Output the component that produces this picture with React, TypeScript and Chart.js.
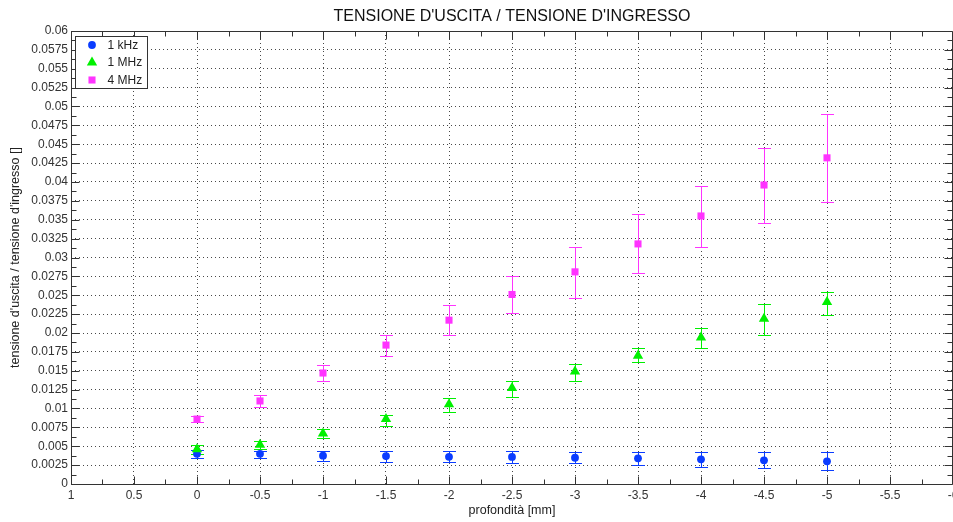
import React, { useEffect, useRef } from 'react';
import { Chart, registerables } from 'chart.js';

Chart.register(...registerables);

// Depth positions (mm)
const depths = [0, -0.5, -1, -1.5, -2, -2.5, -3, -3.5, -4, -4.5, -5];

// 1 kHz: ratio and error-bar bounds
const khz1 = [0.0040, 0.0040, 0.00375, 0.0037, 0.0036, 0.00358, 0.00348, 0.0034, 0.00327, 0.00314, 0.0030];
const khz1Low = [0.0035, 0.0034, 0.0030, 0.00287, 0.00287, 0.00282, 0.00274, 0.0025, 0.0023, 0.0021, 0.00185];
const khz1High = [0.0045, 0.0044, 0.0044, 0.00437, 0.00433, 0.00433, 0.0042, 0.0042, 0.0042, 0.0042, 0.0042];

// 1 MHz
const mhz1 = [0.0046, 0.0052, 0.0067, 0.0086, 0.01055, 0.0127, 0.0149, 0.0170, 0.0194, 0.0219, 0.0241];
const mhz1Low = [0.0040, 0.0046, 0.0061, 0.0077, 0.0095, 0.0115, 0.0137, 0.0161, 0.0180, 0.0197, 0.0224];
const mhz1High = [0.0051, 0.0057, 0.0073, 0.0092, 0.0114, 0.0137, 0.0159, 0.0180, 0.0206, 0.0239, 0.0254];

// 4 MHz
const mhz4 = [0.0086, 0.0110, 0.0147, 0.0184, 0.0217, 0.0251, 0.0281, 0.0318, 0.0355, 0.0396, 0.0432];
const mhz4Low = [0.0082, 0.0102, 0.0137, 0.0169, 0.0198, 0.0227, 0.0247, 0.0280, 0.0314, 0.0346, 0.0373];
const mhz4High = [0.0090, 0.0118, 0.0157, 0.0197, 0.0237, 0.0276, 0.0314, 0.0357, 0.0395, 0.0445, 0.0490];

const seriesNames = ['1 kHz', '1 MHz', '4 MHz'];
const seriesColors = ['#0a3cff', '#00f000', '#ff33ff'];
const seriesShapes = ['circle', 'triangle', 'rect'];
const seriesRadius = [3.9, 6, 5];

// Axis ranges and tick spacing
const xMin = -6;
const xMax = 1;
const xStep = 0.5;
const yMin = 0;
const yMax = 0.06;
const yStep = 0.0025;

const FONT = "'Liberation Sans', Arial, Helvetica, sans-serif";
const AXIS_COLOR = '#333';

const noPadding = () => ({ left: 0, top: 0, right: 0, bottom: 0 });

function drawMarker(ctx: CanvasRenderingContext2D, shape: string, x: number, y: number, r: number, color: string) {
  ctx.save();
  ctx.fillStyle = color;
  ctx.beginPath();
  if (shape === 'circle') {
    ctx.arc(x, y, r, 0, Math.PI * 2);
  } else if (shape === 'triangle') {
    ctx.moveTo(x, y - r);
    ctx.lineTo(x + r * Math.sin(Math.PI * 2 / 3), y + r / 2);
    ctx.lineTo(x - r * Math.sin(Math.PI * 2 / 3), y + r / 2);
    ctx.closePath();
  } else {
    const s = r * Math.SQRT1_2;
    ctx.rect(x - s, y - s, 2 * s, 2 * s);
  }
  ctx.fill();
  ctx.restore();
}

// Vertical error bars with caps, drawn beneath the markers
const errorBarsPlugin = {
  id: 'errorBars',
  beforeDatasetsDraw(chart: any) {
    const { ctx, chartArea, scales } = chart;
    ctx.save();
    ctx.beginPath();
    ctx.rect(chartArea.left, chartArea.top, chartArea.right - chartArea.left, chartArea.bottom - chartArea.top);
    ctx.clip();
    chart.data.datasets.forEach((ds: any) => {
      ctx.strokeStyle = ds.borderColor;
      ctx.lineWidth = 1;
      ds.data.forEach((p: any, i: number) => {
        const x = Math.round(scales.x.getPixelForValue(p.x)) + 0.5;
        const yLo = Math.round(scales.y.getPixelForValue(ds.errLow[i])) + 0.5;
        const yHi = Math.round(scales.y.getPixelForValue(ds.errHigh[i])) + 0.5;
        const cap = 6.5;
        ctx.beginPath();
        ctx.moveTo(x, yLo);
        ctx.lineTo(x, yHi);
        ctx.moveTo(x - cap, yLo);
        ctx.lineTo(x + cap, yLo);
        ctx.moveTo(x - cap, yHi);
        ctx.lineTo(x + cap, yHi);
        ctx.stroke();
      });
    });
    ctx.restore();
  },
};

// Box frame with inward major/minor tick marks on all four sides, plus the legend box
const framePlugin = {
  id: 'frame',
  afterDatasetsDraw(chart: any) {
    const { ctx, chartArea, scales } = chart;
    const { left, right, top, bottom } = chartArea;
    const L = Math.round(left) + 0.5;
    const R = Math.round(right) - 0.5;
    const T = Math.round(top) + 0.5;
    const B = Math.round(bottom) + 0.5;
    ctx.save();
    ctx.strokeStyle = AXIS_COLOR;
    ctx.lineWidth = 1;
    ctx.beginPath();
    ctx.moveTo(L, T);
    ctx.lineTo(R, T);
    ctx.lineTo(R, B);
    ctx.lineTo(L, B);
    ctx.closePath();
    ctx.stroke();

    ctx.beginPath();
    const xMinor = xStep / 2;
    const nx = Math.round((xMax - xMin) / xMinor);
    for (let i = 0; i <= nx; i++) {
      const v = xMin + i * xMinor;
      const px = Math.round(scales.x.getPixelForValue(v)) + 0.5;
      const len = i % 2 === 0 ? 8 : 5;
      ctx.moveTo(px, B);
      ctx.lineTo(px, B - len);
      ctx.moveTo(px, T);
      ctx.lineTo(px, T + len);
    }
    const yMinor = yStep / 2;
    const ny = Math.round((yMax - yMin) / yMinor);
    for (let i = 0; i <= ny; i++) {
      const v = yMin + i * yMinor;
      const py = Math.round(scales.y.getPixelForValue(v)) + 0.5;
      const len = i % 2 === 0 ? 8 : 5;
      ctx.moveTo(L, py);
      ctx.lineTo(L + len, py);
      ctx.moveTo(R, py);
      ctx.lineTo(R - len, py);
    }
    ctx.stroke();
    ctx.restore();
  },
  afterDraw(chart: any) {
    const { ctx, chartArea } = chart;
    const bx = Math.round(chartArea.left) + 4.5;
    const by = Math.round(chartArea.top) + 5.5;
    const bw = 72;
    const bh = 52;
    ctx.save();
    ctx.fillStyle = '#fff';
    ctx.fillRect(bx, by, bw, bh);
    ctx.strokeStyle = AXIS_COLOR;
    ctx.lineWidth = 1;
    ctx.strokeRect(bx, by, bw, bh);
    ctx.font = `12px ${FONT}`;
    ctx.fillStyle = '#222';
    ctx.textBaseline = 'middle';
    ctx.textAlign = 'left';
    seriesNames.forEach((name, i) => {
      const cy = by + 8.5 + i * 17.5;
      drawMarker(ctx, seriesShapes[i], bx + 16.5, cy, seriesRadius[i], seriesColors[i]);
      ctx.fillText(name, bx + 32, cy + 0.5);
    });
    ctx.restore();
  },
};

export default function App() {
  const canvasRef = useRef<HTMLCanvasElement | null>(null);

  useEffect(() => {
    const canvas = canvasRef.current;
    if (!canvas) return;

    const makeSet = (i: number, values: number[], lo: number[], hi: number[], order: number) => ({
      label: seriesNames[i],
      data: depths.map((d, k) => ({ x: d, y: values[k] })),
      errLow: lo,
      errHigh: hi,
      borderColor: seriesColors[i],
      backgroundColor: seriesColors[i],
      pointStyle: seriesShapes[i],
      pointRadius: seriesRadius[i],
      pointBorderWidth: 0,
      showLine: false,
      order,
    });

    const chart = new Chart(canvas, {
      type: 'scatter',
      data: {
        datasets: [
          makeSet(0, khz1, khz1Low, khz1High, 3),
          makeSet(1, mhz1, mhz1Low, mhz1High, 2),
          makeSet(2, mhz4, mhz4Low, mhz4High, 1),
        ] as any,
      },
      options: {
        animation: false,
        responsive: false,
        devicePixelRatio: 1,
        layout: { autoPadding: false, padding: { left: 0, right: 0, top: 0, bottom: 0 } },
        plugins: {
          legend: { display: false },
          tooltip: { enabled: false },
          title: {
            display: true,
            text: "TENSIONE D'USCITA / TENSIONE D'INGRESSO",
            fullSize: false,
            color: '#111',
            font: { family: FONT, size: 16, weight: 'normal', lineHeight: 1.2 },
            padding: { top: 7.4, bottom: 4.4 },
          },
        },
        scales: {
          x: {
            type: 'linear',
            reverse: true,
            min: xMin,
            max: xMax,
            afterFit: (s: any) => {
              s.height = 38;
              s.paddingLeft = 0;
              s.paddingRight = 0;
              s.getPadding = noPadding;
            },
            ticks: {
              stepSize: xStep,
              autoSkip: false,
              maxRotation: 0,
              padding: 4,
              color: '#333',
              font: { family: FONT, size: 12 },
              callback: (v: any) => String(Math.round(Number(v) * 100) / 100),
            },
            grid: { color: 'rgba(40,40,40,0.85)', lineWidth: 1, drawTicks: false },
            border: { display: false, dash: [1, 3] },
            title: {
              display: true,
              text: 'profondità [mm]',
              color: '#222',
              font: { family: FONT, size: 12.5 },
              padding: { top: 0, bottom: 4 },
            },
          },
          y: {
            type: 'linear',
            min: yMin,
            max: yMax,
            afterFit: (s: any) => {
              s.width = 71;
              s.paddingTop = 0;
              s.paddingBottom = 0;
              s.getPadding = noPadding;
            },
            ticks: {
              stepSize: yStep,
              autoSkip: false,
              padding: 3,
              color: '#333',
              font: { family: FONT, size: 12 },
              callback: (v: any) => String(Math.round(Number(v) * 10000) / 10000),
            },
            grid: { color: 'rgba(40,40,40,0.85)', lineWidth: 1, drawTicks: false },
            border: { display: false, dash: [1, 3] },
            title: {
              display: true,
              text: "tensione d'uscita / tensione d'ingresso []",
              color: '#222',
              font: { family: FONT, size: 12.5 },
              padding: { top: 8, bottom: 0 },
            },
          },
        },
      } as any,
      plugins: [errorBarsPlugin, framePlugin],
    });

    return () => chart.destroy();
  }, []);

  return (
    <div style={{ position: 'fixed', left: 0, top: 0, width: 953, height: 522, background: '#fff' }}>
      <canvas ref={canvasRef} width={953} height={522} style={{ display: 'block', width: 953, height: 522 }} />
    </div>
  );
}
